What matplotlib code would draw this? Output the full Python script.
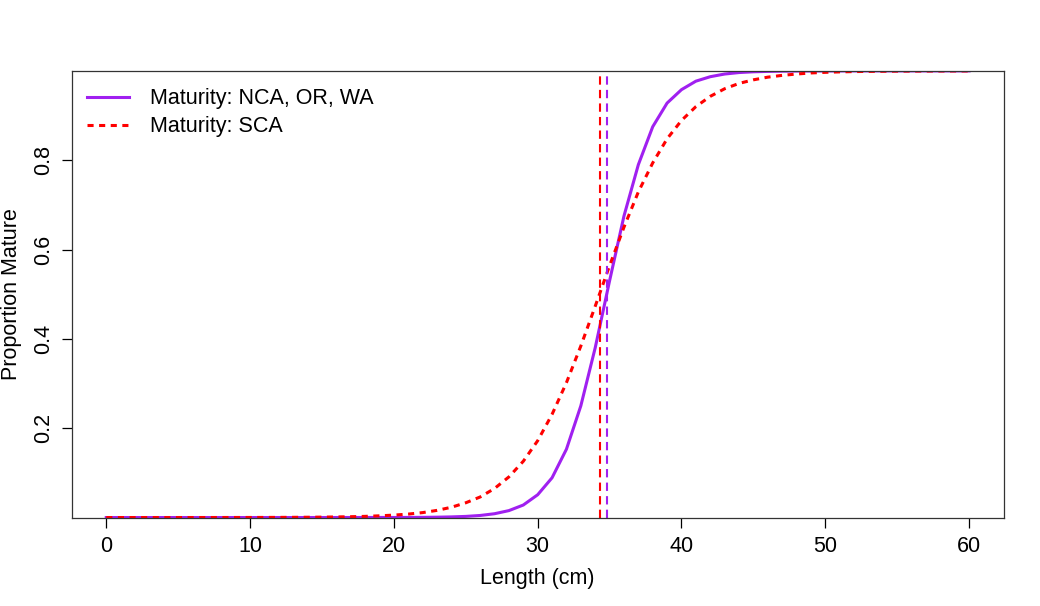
import matplotlib
matplotlib.use("Agg")
import matplotlib.pyplot as plt

plt.rcParams["font.family"] = ["Liberation Sans", "DejaVu Sans"]

# length bins (cm)
length = list(range(0, 61))

# proportion mature, NCA / OR / WA
mat_north = [
    0.0, 0.0, 0.0, 0.0, 0.0, 0.0, 0.0, 0.0, 0.0, 0.0,
    0.0, 0.0, 0.00001, 0.00001, 0.00002, 0.00003, 0.00004, 0.00006, 0.00011, 0.0002,
    0.00012, 0.00022, 0.0004, 0.00075, 0.0014, 0.0025, 0.0046, 0.0085, 0.0155, 0.028,
    0.051, 0.089, 0.153, 0.25, 0.38, 0.53, 0.675, 0.79, 0.875, 0.928,
    0.958, 0.977, 0.987, 0.993, 0.9963, 0.998, 0.9989, 0.9994, 0.9997, 0.9998,
    0.9999, 0.9999, 1.0, 1.0, 1.0, 1.0, 1.0, 1.0, 1.0, 1.0, 1.0,
]
# proportion mature, SCA
mat_south = [
    0.0, 0.0, 0.0, 0.0, 0.00001, 0.00002, 0.00003, 0.00004, 0.00006, 0.0001,
    0.00014, 0.0002, 0.00029, 0.00042, 0.00061, 0.00087, 0.00125, 0.0018, 0.0026, 0.0038,
    0.0054, 0.0077, 0.011, 0.016, 0.023, 0.033, 0.046, 0.065, 0.091, 0.126,
    0.172, 0.231, 0.302, 0.384, 0.473, 0.564, 0.65, 0.729, 0.794, 0.848,
    0.889, 0.92, 0.943, 0.96, 0.972, 0.98, 0.986, 0.99, 0.993, 0.9954,
    0.9968, 0.9978, 0.9985, 0.9989, 0.9992, 0.9995, 0.9996, 0.9997, 0.9998, 0.9999, 0.9999,
]
# length at 50% maturity
l50_north = 34.83
l50_south = 34.31

labels = ["Maturity: NCA, OR, WA", "Maturity: SCA"]
purple = "#A020F0"
red = "#FF0000"
fs = 15.5

fig = plt.figure(figsize=(10.4, 6.06), dpi=100)
ax = fig.add_axes([0.069, 0.146, 0.896, 0.737])

ax.plot(length, mat_north, color=purple, lw=2.2, label=labels[0])
ax.plot(length, mat_south, color=red, lw=2.2, linestyle=(0, (2.0, 1.8)), label=labels[1])
ax.axvline(l50_south, color=red, lw=1.5, linestyle=(0, (4, 2.5)))
ax.axvline(l50_north, color=purple, lw=1.5, linestyle=(0, (4, 2.5)))

ax.set_xlim(-2.4, 62.4)
ax.set_ylim(0, 1.0)
ax.set_xticks([0, 10, 20, 30, 40, 50, 60])
ax.set_yticks([0.2, 0.4, 0.6, 0.8])
ax.set_yticklabels(["0.2", "0.4", "0.6", "0.8"], rotation=90, va="center")
ax.tick_params(labelsize=fs, length=7, width=0.9, pad=6)
for sp in ax.spines.values():
    sp.set_linewidth(0.9)
    sp.set_color("#333333")

ax.set_xlabel("Length (cm)", fontsize=fs, labelpad=8)
ax.set_ylabel("Proportion Mature", fontsize=fs, labelpad=8)

ax.legend(loc="upper left", bbox_to_anchor=(-0.004, 1.004), frameon=False, fontsize=fs,
          handlelength=1.95, handletextpad=0.95, labelspacing=0.31, borderaxespad=0.5)

fig.savefig("out.png", dpi=100)
plt.close(fig)
